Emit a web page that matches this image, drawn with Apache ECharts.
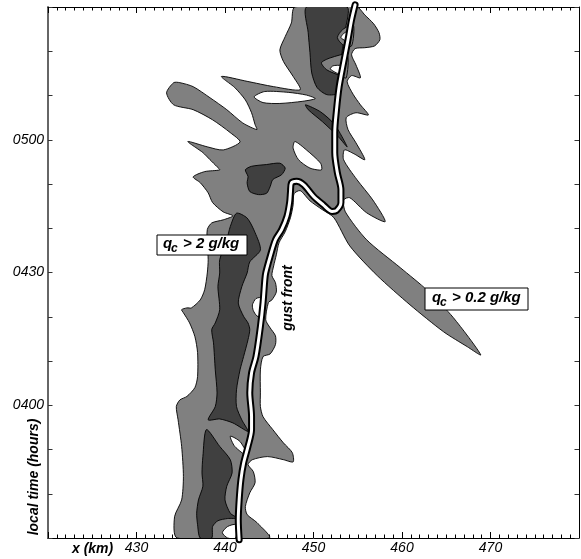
<!DOCTYPE html>
<html><head><meta charset="utf-8">
<script src="https://cdn.jsdelivr.net/npm/echarts@6/dist/echarts.min.js"></script>
<style>html,body{margin:0;padding:0;background:#fff}#c{width:581px;height:559px}</style>
</head><body><div id="c"></div>
<script>
// x in km, t in minutes after midnight
const xTickLabels = [430, 440, 450, 460, 470];
const timeTickValues = [240, 270, 300];
const timeTickLabels = ['0400', '0430', '0500'];

// qc > 0.2 g/kg region (outline)
const cloudOuter = [[434.6,210],[434.3,214.8],[435.1,218.6],[435.3,223.9],[435.1,230.7],[434.7,236.7],[434.5,239.7],[434.9,241.2],[435.7,242.0],[436.6,244.0],[436.9,246.5],[436.9,251.9],[436.6,255.5],[436.0,258.6],[435.3,260.9],[435.1,261.6],[435.7,262.0],[436.2,262.0],[437.2,263.8],[437.7,266.1],[438.0,269.9],[438.1,272.9],[438.0,276.3],[438.0,279.7],[438.5,281.2],[439.8,281.9],[440.9,282.8],[439.8,283.7],[438.6,285.8],[438.1,288.0],[437.2,290.3],[436.4,291.6],[437.7,292.8],[439.4,293.2],[439.1,293.9],[438.3,295.5],[437.5,297.1],[435.8,299.6],[438.0,298.4],[439.8,297.7],[441.7,299.5],[440.6,301.6],[438.6,304.5],[436.4,306.8],[434.2,307.9],[433.4,310.6],[434.2,312.9],[434.9,312.9],[436.4,312.0],[438.3,309.5],[440.2,306.8],[442.0,303.8],[443.6,302.3],[443.4,303.4],[443.0,306.1],[442.3,309.0],[441.1,311.8],[439.6,314.3],[442.5,313.2],[445.5,312.0],[448.5,311.3],[447.7,314.3],[446.6,317.7],[446.2,320.3],[446.8,323.3],[447.5,326.4],[447.9,330],[454.9,330],[455.8,328.2],[456.8,326.2],[457.4,324.2],[457.5,322.6],[456.9,321.2],[455.8,320.8],[454.7,320.6],[454.3,319.2],[454.8,316.9],[455.3,314.0],[454.3,314.5],[453.8,313.1],[454.5,310.2],[455.3,307.9],[456.2,305.6],[454.8,306.1],[453.7,305.0],[453.9,302.3],[454.8,299.3],[455.8,295.5],[454.6,296.8],[453.5,297.7],[453.4,295.5],[454.9,291.0],[456.7,286.4],[458.1,281.5],[456.0,283.5],[454.1,286.9],[453.4,286.4],[453.6,283.7],[456.0,277.4],[459.8,271.1],[462.9,265.9],[465.8,259.8],[468.9,251.4],[467.4,253.2],[464.7,256.6],[460.9,262.7],[457.2,269.3],[454.1,276.0],[452.3,282.4],[451.0,284.2],[449.6,286.2],[448.5,288.5],[447.8,287.8],[447.7,285.3],[447.4,282.4],[446.8,279.2],[446.1,276.7],[445.8,274.0],[445.5,271.5],[445.3,269.3],[445.7,267.7],[445.8,265.6],[445.3,263.8],[444.9,263.2],[444.6,259.3],[445.1,257.5],[445.7,255.7],[445.7,253.7],[445.1,251.6],[444.3,251.0],[444.0,248.0],[444.0,242.8],[444.0,239.7],[444.3,237.4],[445.4,234.5],[446.6,231.5],[447.6,229.3],[447.7,227.2],[446.6,227.7],[444.8,228.4],[443.1,227.7],[442.6,226.6],[443.2,225.0],[443.4,222.5],[442.8,220.2],[442.3,217.1],[442.5,215.3],[443.6,213.5],[445.0,210]];

// holes (qc < 0.2) inside the outline
const holeA = [[443.3,309.7],[444.5,310.9],[447.2,310.7],[449.2,310.1],[450.2,309.3],[448.8,308.7],[446.2,308.2],[444.3,308.4]];
const holeB = [[447.9,299.6],[449.2,297.7],[450.8,294.7],[450.9,293.2],[449.6,293.6],[448.3,295.5],[447.7,298.1]];
const holeC = [[440.6,233.0],[441.7,231.8],[442.6,228.4],[441.1,230.7]];
const holeD = [[443.1,262.7],[443.5,264.1],[444.2,264.3],[444.3,262.0],[444.2,259.8],[443.6,260.2],[443.2,261.4]];
const holeE = [[439.7,211.2],[440.3,212.6],[441.2,213.0],[441.2,210],[440.3,210]];

// qc > 2 g/kg regions
const coreTop = [[449.2,330],[449.4,324.2],[449.6,319.7],[449.8,315.1],[450.4,311.8],[451.5,310.2],[452.8,310.6],[453.1,318.1],[453.6,324.9],[453.8,330]];
const coreBlob = [[442.3,293.2],[443.0,294.0],[444.7,294.4],[446.2,294.7],[446.8,293.6],[446.4,292.1],[445.4,291.0],[445.1,289.4],[444.7,287.9],[443.8,287.6],[442.8,288.3],[442.5,290.2],[442.6,291.7]];
const coreMid = [[441.3,283.4],[442.5,282.3],[443.4,279.0],[444.0,275.1],[442.8,272.4],[442.5,269.9],[441.9,266.8],[441.5,263.1],[442.1,260.1],[442.6,258.6],[442.8,257.1],[442.6,254.8],[442.1,251.0],[441.7,248.0],[441.3,243.5],[441.3,239.7],[441.9,236.7],[442.6,234.1],[440.9,236.0],[439.4,236.9],[438.1,236.7],[438.9,239.7],[439.1,242.8],[438.9,248.0],[438.7,254.1],[438.5,257.1],[438.9,258.6],[439.4,261.6],[439.2,266.8],[439.4,269.9],[439.4,272.9],[440.2,277.4],[440.6,280.4]];
const coreLow = [[437.9,234.5],[439.4,230.7],[440.6,227.7],[440.8,224.7],[440.2,221.7],[440.0,218.6],[440.6,215.6],[441.4,214.5],[440.3,214.4],[439.2,213.9],[438.6,212.6],[438.5,210],[437.2,210],[436.9,213.0],[436.8,215.6],[437.0,218.6],[437.5,221.7],[437.4,224.7],[437.5,228.4]];
const coreStreak = [[449.1,307.9],[450.8,306.3],[452.4,303.4],[453.8,298.4],[452.8,300.7],[451.0,304.1],[449.4,306.8]];

// weaker tongues inside the top core, and their clear centres
const tongue1 = [[454.5,326.0],[453.3,324.9],[452.7,323.1],[453.3,321.5],[454.3,321.2]];
const tongue2 = [[453.8,319.2],[451.9,318.5],[450.9,317.4],[451.5,315.8],[453.0,314.5],[453.7,314.0]];
const tongue1Hole = [[454.1,324.7],[453.4,324.0],[453.1,323.1],[453.6,322.4],[454.1,322.4]];
const tongue2Hole = [[453.1,316.7],[452.2,316.7],[451.9,316.0],[452.6,315.1],[453.1,314.9]];

// gust front
const gustFront = [[454.7,330.5],[454.3,327.1],[453.9,322.6],[453.4,317.4],[452.9,312.0],[452.6,306.8],[452.4,301.6],[452.4,297.1],[452.7,292.5],[453.1,288.7],[453.1,285.8],[452.6,284.0],[452.1,283.8],[451.1,285.3],[450.0,287.2],[448.9,289.8],[448.1,290.6],[447.5,290.2],[447.4,288.3],[447.3,285.8],[447.0,282.7],[446.4,279.7],[445.7,277.4],[445.1,273.6],[444.6,269.9],[444.5,268.4],[444.3,263.2],[444.0,257.8],[443.5,251.0],[443.0,247.3],[442.8,242.8],[443.0,237.5],[443.0,234.5],[442.6,230.7],[442.1,226.9],[441.8,223.2],[441.6,218.6],[441.5,214.1],[441.6,209.6]];

const LIGHT = '#808080', DARK = '#404040', CLEAR = '#ffffff';
const FONT = '"Liberation Sans", Arial, Helvetica, sans-serif';

let zc = 2;
function poly(pts, fill) {
  return {
    type: 'custom', coordinateSystem: 'cartesian2d', clip: true, silent: true, z: zc++,
    data: [pts[0]],
    renderItem: function (params, api) {
      return {
        type: 'polygon',
        shape: { points: pts.map(p => api.coord(p)), smooth: 0.25 },
        style: { fill: fill, stroke: '#000', lineWidth: 0.9 }
      };
    }
  };
}

function xAxisDef(pos, showLabel) {
  return {
    type: 'value', min: 420, max: 480, interval: 10, position: pos,
    axisLine: { show: true, onZero: false, lineStyle: { color: '#000', width: 1 } },
    axisTick: { show: true, inside: true, length: 6, lineStyle: { color: '#000', width: 1 } },
    minorTick: { show: true, splitNumber: 10, length: 3.5, lineStyle: { color: '#000', width: 1 } },
    splitLine: { show: false }, minorSplitLine: { show: false },
    axisLabel: {
      show: showLabel, margin: 3, color: '#000', fontSize: 14, fontStyle: 'italic', fontFamily: FONT,
      formatter: v => xTickLabels.indexOf(v) >= 0 ? String(v) : ''
    }
  };
}
function yAxisDef(pos, showLabel, color, width) {
  return {
    type: 'value', min: 210, max: 330, interval: 10, position: pos,
    axisLine: { show: true, onZero: false, lineStyle: { color: color, width: width } },
    axisTick: { show: true, inside: true, length: 4.5, lineStyle: { color: '#333', width: 1 } },
    splitLine: { show: false },
    axisLabel: {
      show: showLabel, margin: 4, color: '#000', fontSize: 14, fontStyle: 'italic', fontFamily: FONT,
      formatter: v => { const i = timeTickValues.indexOf(v); return i >= 0 ? timeTickLabels[i] : ''; }
    }
  };
}

const series = [
  poly(cloudOuter, LIGHT),
  poly(holeA, CLEAR), poly(holeB, CLEAR), poly(holeC, CLEAR), poly(holeD, CLEAR), poly(holeE, CLEAR),
  poly(coreTop, DARK), poly(coreBlob, DARK), poly(coreMid, DARK), poly(coreLow, DARK), poly(coreStreak, DARK),
  poly(tongue1, LIGHT), poly(tongue2, LIGHT), poly(tongue1Hole, CLEAR), poly(tongue2Hole, CLEAR),
  { type: 'line', data: gustFront, showSymbol: false, clip: false, silent: true, z: 40, smooth: 0.3,
    lineStyle: { color: '#000', width: 7, cap: 'round', join: 'round' } },
  { type: 'line', data: gustFront, showSymbol: false, clip: false, silent: true, z: 41, smooth: 0.3,
    lineStyle: { color: '#fff', width: 3, cap: 'round', join: 'round' } }
];

function txt(x, y, s, size, extra) {
  return Object.assign({ type: 'text', x: x, y: y, z: 100,
    style: { text: s, fill: '#000', fontSize: size, fontWeight: 'bold', fontStyle: 'italic', fontFamily: FONT,
      align: 'left', verticalAlign: 'middle' } }, extra || {});
}

const graphic = [
  { type: 'rect', z: 99, shape: { x: 157, y: 235, width: 90, height: 20 }, style: { fill: '#fff', stroke: '#000', lineWidth: 1 } },
  txt(163, 244, 'q', 15), txt(171, 249, 'c', 12), txt(183, 244, '> 2 g/kg', 15),
  { type: 'rect', z: 99, shape: { x: 425, y: 288, width: 103, height: 22 }, style: { fill: '#fff', stroke: '#000', lineWidth: 1 } },
  txt(432, 298, 'q', 15), txt(440, 303, 'c', 12), txt(452, 298, '> 0.2 g/kg', 15),
  { type: 'text', x: 288, y: 298, rotation: Math.PI / 2, z: 100,
    style: { text: 'gust front', fill: '#000', fontSize: 14, fontWeight: 'bold', fontStyle: 'italic', fontFamily: FONT, align: 'center', verticalAlign: 'middle' } },
  { type: 'text', x: 34, y: 477, rotation: Math.PI / 2, z: 100,
    style: { text: 'local time (hours)', fill: '#000', fontSize: 14, fontWeight: 'bold', fontStyle: 'italic', fontFamily: FONT, align: 'center', verticalAlign: 'middle' } },
  txt(72, 549, 'x (km)', 14)
];

const chart = echarts.init(document.getElementById('c'), null, { renderer: 'canvas' });
chart.setOption({
  animation: false,
  backgroundColor: '#fff',
  grid: { left: 48, right: 2, top: 7, bottom: 21, containLabel: false, outerBoundsMode: 'none' },
  xAxis: [xAxisDef('bottom', true), xAxisDef('top', false)],
  yAxis: [yAxisDef('left', true, '#666', 2), yAxisDef('right', false, '#000', 1)],
  series: series,
  graphic: graphic
});
</script>
</body></html>
